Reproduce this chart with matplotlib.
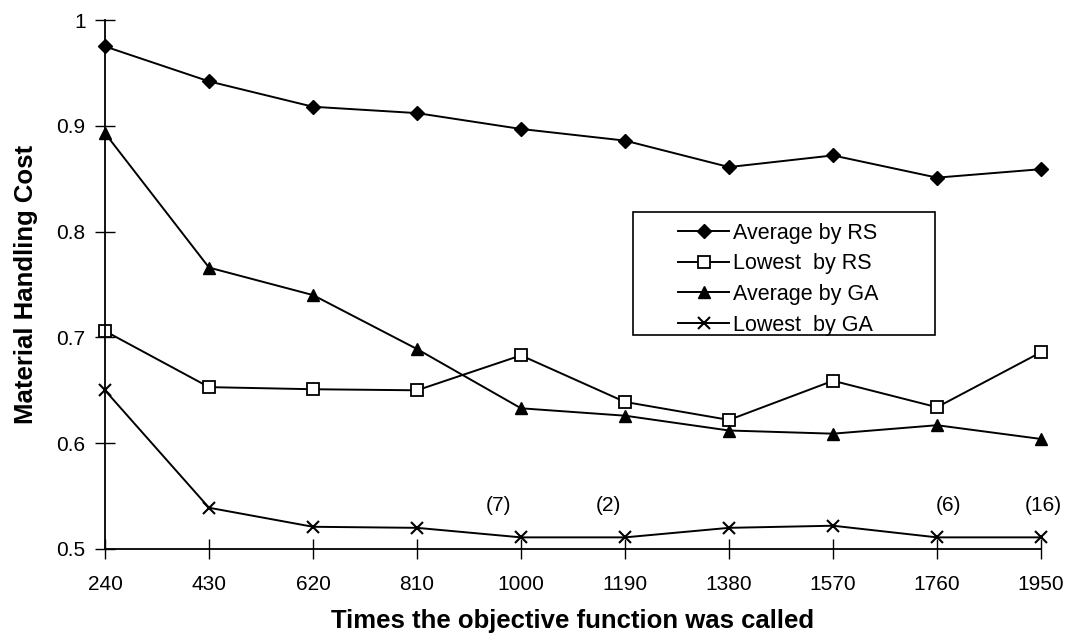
import matplotlib
matplotlib.use('Agg')
import matplotlib.pyplot as plt
from matplotlib.patches import Rectangle

plt.rcParams['font.family'] = ['Liberation Sans', 'DejaVu Sans']

calls = [240, 430, 620, 810, 1000, 1190, 1380, 1570, 1760, 1950]
avg_rs = [0.975, 0.942, 0.918, 0.912, 0.897, 0.886, 0.861, 0.872, 0.851, 0.859]
low_rs = [0.706, 0.653, 0.651, 0.650, 0.683, 0.639, 0.622, 0.659, 0.634, 0.686]
avg_ga = [0.893, 0.766, 0.740, 0.689, 0.633, 0.626, 0.612, 0.609, 0.617, 0.604]
low_ga = [0.650, 0.539, 0.521, 0.520, 0.511, 0.511, 0.520, 0.522, 0.511, 0.511]
# counts written above some points of the lowest-by-GA line
note_x = [1000, 1190, 1760, 1950]
note_txt = ['(7)', '(2)', '(6)', '(16)']
note_shift = [-16, -12, 8, 2]

W, H = 1069, 633
fig = plt.figure(figsize=(W / 100, H / 100), dpi=100)
ax = fig.add_axes([105 / W, 1 - 549 / H, 936 / W, 529 / H])

ax.plot(calls, avg_rs, color='black', lw=1.4, marker='D', ms=7, label='Average by RS')
ax.plot(calls, low_rs, color='black', lw=1.4, marker='s', ms=9, mfc='white', mew=1.3, label='Lowest  by RS')
ax.plot(calls, avg_ga, color='black', lw=1.4, marker='^', ms=8.5, label='Average by GA')
ax.plot(calls, low_ga, color='black', lw=1.4, marker='x', ms=9, mew=1.5, label='Lowest  by GA')

for x, t, dx in zip(note_x, note_txt, note_shift):
    ax.annotate(t, (x, 0.541), xytext=(dx, 0), textcoords='offset points',
                ha='center', va='center', fontsize=15)

ax.set_xlim(240, 1950)
ax.set_ylim(0.5, 1.0)
ax.set_xticks(calls)
ax.set_xticklabels([str(c) for c in calls])
ax.set_yticks([0.5, 0.6, 0.7, 0.8, 0.9, 1.0])
ax.set_yticklabels(['0.5', '0.6', '0.7', '0.8', '0.9', '1'])
ax.tick_params(direction='inout', length=14, width=1, labelsize=15)
ax.tick_params(axis='x', pad=12)
ax.tick_params(axis='y', pad=7)
for s in ['top', 'right']:
    ax.spines[s].set_visible(False)
for s in ['left', 'bottom']:
    ax.spines[s].set_linewidth(1.3)
for ln in ax.lines:
    ln.set_clip_on(False)

ax.set_xlabel('Times the objective function was called', fontsize=18.5, fontweight='bold')
ax.xaxis.set_label_coords(0.5, -0.113)
ax.set_ylabel('Material Handling Cost', fontsize=18.5, fontweight='bold')
ax.yaxis.set_label_coords(-0.0716, 0.5)

leg = ax.legend(loc='upper left', bbox_to_anchor=(0.612, 0.617), fontsize=15.5, frameon=False,
                handlelength=2.4, handletextpad=0.15, borderpad=0, labelspacing=0.45,
                borderaxespad=0)
ax.add_patch(Rectangle((0.564, 0.405), 0.323, 0.232, transform=ax.transAxes,
                       fill=False, edgecolor='black', lw=1.2, clip_on=False))

fig.savefig('out.png', dpi=100)
